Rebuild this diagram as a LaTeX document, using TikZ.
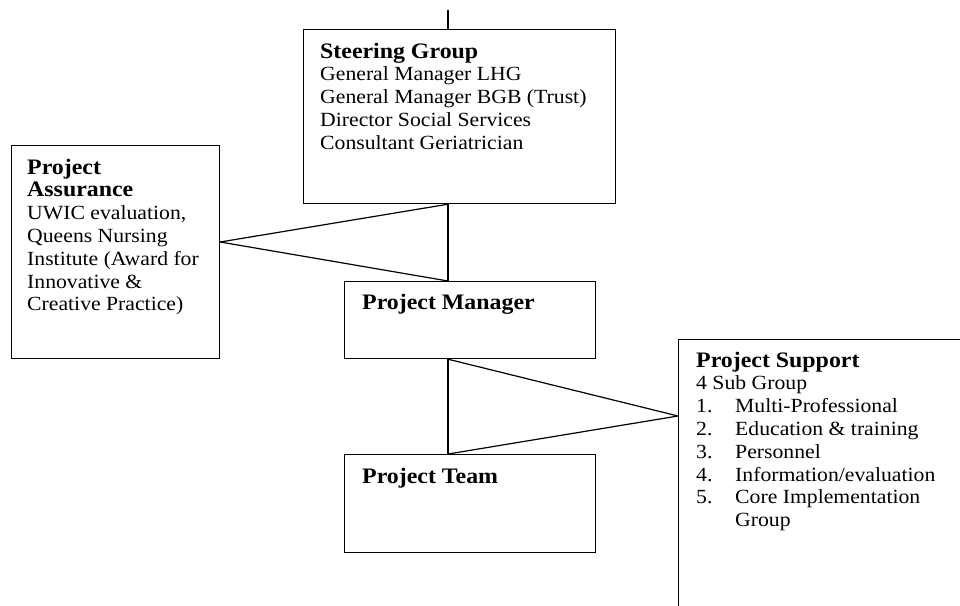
\documentclass[tikz,border=0pt]{standalone}
\usepackage{fontspec}
\setmainfont{Liberation Serif}[FakeStretch=1.08]
\usetikzlibrary{calc}
\newcommand\hdtext[1]{{\fontsize{22.1}{22.8}\selectfont\bfseries #1}}
\begin{document}
\begin{tikzpicture}[x=1pt,y=-1pt,
  box/.style={draw,line width=1.2pt,rectangle,inner sep=0pt,anchor=north west},
  txt/.style={anchor=base west,inner sep=0pt,align=left,font=\fontsize{20.1}{22.8}\selectfont},
  conn/.style={line width=1.2pt}]
\useasboundingbox (0,0) rectangle (960,605);
\fill[white] (0,0) rectangle (960,605);
\clip (0,0) rectangle (960,605);
% boxes
\node[box,minimum width=312pt,minimum height=174pt] (sg) at (303,29) {};
\node[box,minimum width=208pt,minimum height=213pt] (pa) at (11,145) {};
\node[box,minimum width=251pt,minimum height=77pt] (pm) at (344,281) {};
\node[box,minimum width=251pt,minimum height=98pt] (pt) at (344,454) {};
\node[box,minimum width=300pt,minimum height=300pt] (ps) at (678,339) {};
% texts (anchored at the baseline of their last line)
\node[txt] (sgt) at (320,149.2) {\hdtext{Steering Group}\\General Manager LHG\\General Manager BGB (Trust)\\Director Social Services\\Consultant Geriatrician};
\node[txt] (pat) at (27,310.8) {\hdtext{Project}\\\hdtext{Assurance}\\UWIC evaluation,\\Queens Nursing\\Institute (Award for\\Innovative \&\\Creative Practice)};
\node[txt] (pmt) at (362,309) {\hdtext{Project Manager}};
\node[txt] (ptt) at (362,483) {\hdtext{Project Team}};
\node[txt] (pst) at (696,526.6) {\hdtext{Project Support}\\4 Sub Group\\\makebox[39pt][l]{1.}Multi-Professional\\\makebox[39pt][l]{2.}Education \& training\\\makebox[39pt][l]{3.}Personnel\\\makebox[39pt][l]{4.}Information/evaluation\\\makebox[39pt][l]{5.}Core Implementation\\\hspace*{39pt}Group};
% connection points
\coordinate (top) at (448,10);
\coordinate (sgN) at ($(sg.north west)+(145,0)$);
\coordinate (sgS) at ($(sg.south west)+(145,0)$);
\coordinate (paE) at ($(pa.north east)+(0,97)$);
\coordinate (pmN) at ($(pm.north west)+(104,0)$);
\coordinate (pmS) at ($(pm.south west)+(104,0)$);
\coordinate (ptN) at ($(pt.north west)+(104,0)$);
\coordinate (psW) at ($(ps.north west)+(0,77)$);
% connectors
\draw[conn] (top) -- (sgN);
\draw[conn] (sgS) -- (pmN);
\draw[conn] (paE) -- (sgS);
\draw[conn] (paE) -- (pmN);
\draw[conn] (pmS) -- (ptN);
\draw[conn] (pmS) -- (psW);
\draw[conn] (ptN) -- (psW);
\end{tikzpicture}
\end{document}
